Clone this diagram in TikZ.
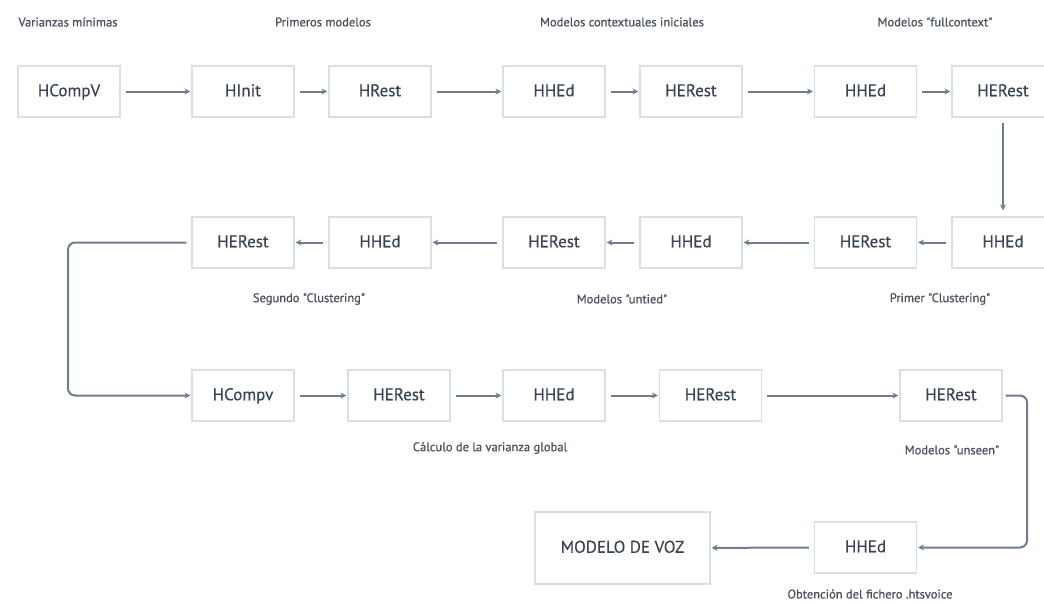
\documentclass[tikz,border=0pt]{standalone}
\usepackage{fontspec}
\setmainfont{PT Sans}
\newfontfamily\boxfont[FakeBold=0.4]{PT Sans}
\newfontfamily\capfont[FakeBold=0.9]{PT Sans}
\usetikzlibrary{arrows.meta}

\definecolor{boxline}{HTML}{D8DFE7}
\definecolor{txt}{HTML}{3B4452}
\definecolor{lbl}{HTML}{4A525E}
\definecolor{flow}{HTML}{6F7C8C}

\tikzset{
  toolbox/.style={draw=boxline, line width=1.2pt, fill=white,
    minimum width=102pt, minimum height=51pt, inner sep=0pt,
    text height=12.5pt, text depth=3pt,
    font=\boxfont\fontsize{17}{20}\selectfont, text=txt},
  bigbox/.style={toolbox, minimum width=175pt, minimum height=72pt},
  caption/.style={font=\capfont\fontsize{12.5}{15}\selectfont, text=lbl, inner sep=0pt},
  flowarrow/.style={draw=flow, line width=2pt,
    -{Stealth[length=6pt,width=6pt]}, shorten <=5pt, shorten >=1pt},
  flowbend/.style={flowarrow, rounded corners=7pt}
}

\begin{document}
\begin{tikzpicture}[x=1pt,y=-1pt]
\useasboundingbox (0,0) rectangle (1044,603);

% first row: initial training
\node[toolbox] (a1) at (69,91.5)    {HCompV};
\node[toolbox] (a2) at (243,91.5)   {HInit};
\node[toolbox] (a3) at (380,91.5)   {HRest};
\node[toolbox] (a4) at (554,91.5)   {HHEd};
\node[toolbox] (a5) at (691,91.5)   {HERest};
\node[toolbox] (a6) at (865.5,91.5) {HHEd};
\node[toolbox] (a7) at (1003,91.5)  {HERest};

% second row: clustering, right to left
\node[toolbox] (b1) at (1003,242.5)  {HHEd};
\node[toolbox] (b2) at (865.5,242.5) {HERest};
\node[toolbox] (b3) at (691,242.5)   {HHEd};
\node[toolbox] (b4) at (554,242.5)   {HERest};
\node[toolbox] (b5) at (380,242.5)   {HHEd};
\node[toolbox] (b6) at (243,242.5)   {HERest};

% third row: global variance and unseen models
\node[toolbox] (c1) at (243,395.5)   {HCompv};
\node[toolbox] (c2) at (399,395.5)   {HERest};
\node[toolbox] (c3) at (554,395.5)   {HHEd};
\node[toolbox] (c4) at (710.5,395.5) {HERest};
\node[toolbox] (c5) at (951,395.5)   {HERest};

% last row: voice file
\node[toolbox] (d1) at (865.5,547.5) {HHEd};
\node[bigbox]  (d2) at (622.5,548)   {MODELO DE VOZ};

% stage captions
\node[caption] (t1) at (68,22)    {Varianzas mínimas};
\node[caption] (t2) at (323,22)   {Primeros modelos};
\node[caption] (t3) at (622,22)   {Modelos contextuales iniciales};
\node[caption] (t4) at (935,22)   {Modelos "fullcontext"};
\node[caption] (t5) at (309,299)  {Segundo "Clustering"};
\node[caption] (t6) at (622,299)  {Modelos "untied"};
\node[caption] (t7) at (940,299)  {Primer "Clustering"};
\node[caption] (t8) at (490,448)  {Cálculo de la varianza global};
\node[caption] (t9) at (952,450)  {Modelos "unseen"};
\node[caption] (t10) at (870,594) {Obtención del fichero .htsvoice};

% connectors
\draw[flowarrow] (a1) -- (a2);
\draw[flowarrow] (a2) -- (a3);
\draw[flowarrow] (a3) -- (a4);
\draw[flowarrow] (a4) -- (a5);
\draw[flowarrow] (a5) -- (a6);
\draw[flowarrow] (a6) -- (a7);
\draw[flowarrow, shorten >=6pt] (a7) -- (b1);

\draw[flowarrow] (b1) -- (b2);
\draw[flowarrow] (b2) -- (b3);
\draw[flowarrow] (b3) -- (b4);
\draw[flowarrow] (b4) -- (b5);
\draw[flowarrow] (b5) -- (b6);

\coordinate (lbend) at (68,0);
\draw[flowbend] (b6.west) -| (lbend |- c1.west) -- (c1.west);

\draw[flowarrow] (c1) -- (c2);
\draw[flowarrow] (c2) -- (c3);
\draw[flowarrow] (c3) -- (c4);
\draw[flowarrow] (c4) -- (c5);

\coordinate (rbend) at (1027,0);
\draw[flowbend, shorten <=3pt] (c5.east) -- (rbend |- c5.east) -- (rbend |- d1.east) -- (d1.east);

\draw[flowarrow] (d1) -- (d2);
\end{tikzpicture}
\end{document}
